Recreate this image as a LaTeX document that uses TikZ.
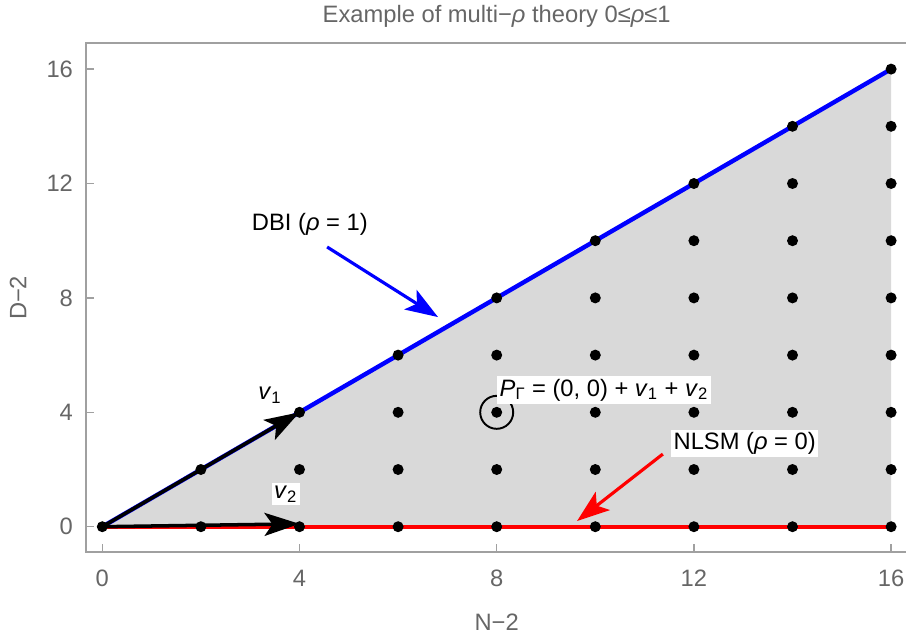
\documentclass[tikz,border=0pt]{standalone}
\usepackage{fontspec}
\setmainfont{Liberation Sans}
\usetikzlibrary{arrows.meta}
\definecolor{Shade}{HTML}{D9D9D9}
\definecolor{FrameGray}{HTML}{A0A0A0}
\definecolor{TickInk}{HTML}{666666}
\definecolor{DBIBlue}{HTML}{0000FF}
\definecolor{NLSMRed}{HTML}{FF0000}

\begin{document}
\begin{tikzpicture}[x=0.986cm,y=0.572cm,every node/.style={font=\fontsize{13.5}{16}\selectfont},frame/.style={draw=FrameGray,line width=0.8pt},ticklab/.style={text=TickInk},tag/.style={fill=white,inner sep=1.5pt},vec/.style={-{Stealth[length=7mm,width=4.6mm,inset=1.6mm]},line width=2pt,draw=black},pointer/.style={-{Stealth[length=6.5mm,width=4.6mm,inset=1.5mm]},line width=1.8pt}]
\useasboundingbox (-2.075,-3.927) rectangle (16.302,18.416);

% frame and ticks
\draw[frame] (16.302,16.906) -- (-0.33,16.906) -- (-0.33,-0.885) -- (16.302,-0.885);
\foreach \t in {0,4,8,12,16} {
  \draw[frame] (\t,-0.885) -- ++(0,0.16cm);
  \draw[frame] (-0.33,\t) -- ++(0.16cm,0);
  \node[ticklab] at (\t,-1.79) {\t};
  \node[ticklab,anchor=east] at (-0.47,\t) {\t};
}
\node[ticklab] (title) at (8.0,17.86) {Example of multi−\textit{ρ} theory 0≤\textit{ρ}≤1};
\node[ticklab] (xlab) at (8.0,-3.33) {N−2};
\node[ticklab,rotate=90] (ylab) at (-1.71,8.0) {D−2};

% region and boundaries
\coordinate (o) at (0,0);
\coordinate (top) at (16,16);
\coordinate (end) at (16,0);
\fill[Shade] (o) -- (top) -- (end) -- cycle;
\draw[NLSMRed,line width=2.5pt] (o) -- (end);
\draw[DBIBlue,line width=2.5pt] (o) -- (top);

% lattice points
\foreach \i in {0,...,8}
  \foreach \j in {0,...,\i}
    \fill (2*\i,2*\j) circle (0.11cm);

% basis vectors
\coordinate (p1) at (4,4);
\coordinate (p2) at (4,0.1);
\draw[vec] (o) -- (p1);
\draw[vec] (o) -- (p2);
\node[tag] (vone) at (3.40,4.60) {\textit{v}\textsubscript{1}};
\node[tag] (vtwo) at (3.72,1.14) {\textit{v}\textsubscript{2}};

% marked point
\coordinate (pg) at (8,4);
\draw[line width=1.1pt] (pg) circle (0.33cm);
\node[tag,anchor=west] (pgam) at (8.0,4.78) {\textit{P}\textsubscript{Γ} = (0, 0) + \textit{v}\textsubscript{1} + \textit{v}\textsubscript{2}};

% theory labels
\node[tag] (dbi) at (4.21,10.58) {DBI (\textit{ρ} = 1)};
\coordinate (dbitail) at (4.56,9.78);
\coordinate (dbitip) at (6.81,7.33);
\draw[pointer,DBIBlue] (dbitail) -- (dbitip);
\node[tag] (nlsm) at (13.03,2.92) {NLSM (\textit{ρ} = 0)};
\coordinate (nlsmtail) at (11.37,2.54);
\coordinate (nlsmtip) at (9.63,0.2);
\draw[pointer,NLSMRed] (nlsmtail) -- (nlsmtip);

\end{tikzpicture}
\end{document}
